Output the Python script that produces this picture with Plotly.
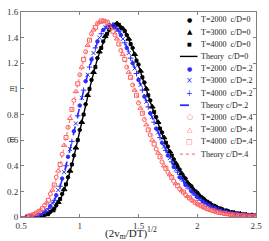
import plotly.graph_objects as go

# ---------------- data ----------------
X_THEORY = [0.50, 0.55, 0.60, 0.65, 0.70, 0.75, 0.80, 0.85, 0.90, 0.95,
            1.00, 1.05, 1.10, 1.15, 1.20, 1.25, 1.30, 1.35, 1.40, 1.45,
            1.50, 1.55, 1.60, 1.65, 1.70, 1.75, 1.80, 1.85, 1.90, 1.95,
            2.00, 2.05, 2.10, 2.15, 2.20, 2.25, 2.30, 2.35, 2.40, 2.45, 2.50]

THEORY_0 = [0, 0, 0.001, 0.004, 0.012, 0.035, 0.085, 0.17, 0.3, 0.47,
            0.67, 0.87, 1.06, 1.23, 1.36, 1.45, 1.5, 1.49, 1.42, 1.31,
            1.18, 1.04, 0.9, 0.77, 0.65, 0.54, 0.44, 0.36, 0.29, 0.23,
            0.18, 0.14, 0.105, 0.08, 0.06, 0.045, 0.033, 0.024, 0.018, 0.013, 0.01]
THEORY_2 = [0, 0.001, 0.004, 0.013, 0.035, 0.08, 0.16, 0.29, 0.46, 0.66,
            0.86, 1.05, 1.22, 1.36, 1.45, 1.5, 1.49, 1.43, 1.33, 1.21,
            1.08, 0.95, 0.82, 0.7, 0.59, 0.49, 0.4, 0.32, 0.26, 0.2,
            0.155, 0.12, 0.09, 0.068, 0.05, 0.037, 0.027, 0.02, 0.015, 0.011, 0.008]
THEORY_4 = [0, 0.004, 0.015, 0.04, 0.085, 0.17, 0.3, 0.48, 0.69, 0.9,
            1.1, 1.28, 1.42, 1.5, 1.53, 1.5, 1.43, 1.32, 1.19, 1.05,
            0.91, 0.78, 0.66, 0.55, 0.45, 0.36, 0.29, 0.23, 0.18, 0.14,
            0.105, 0.08, 0.06, 0.045, 0.033, 0.024, 0.018, 0.013, 0.009, 0.007, 0.005]

X_T2000 = X_THEORY[1:]
X_T3000 = [round(x + 0.017, 3) for x in X_THEORY[1:-1]]
X_T4000 = [round(x + 0.033, 3) for x in X_THEORY[1:-1]]

# c/D = 0
C0_T2000 = [0.0, 0.002, 0.006, 0.015, 0.04, 0.09, 0.18, 0.31, 0.48, 0.68,
            0.88, 1.07, 1.24, 1.37, 1.46, 1.5, 1.48, 1.42, 1.32, 1.19,
            1.05, 0.91, 0.78, 0.66, 0.55, 0.45, 0.37, 0.3, 0.24, 0.19,
            0.145, 0.11, 0.085, 0.065, 0.05, 0.037, 0.028, 0.02, 0.015, 0.012]
C0_T3000 = [0.0, 0.002, 0.007, 0.02, 0.05, 0.115, 0.215, 0.36, 0.54, 0.74,
            0.95, 1.13, 1.29, 1.41, 1.48, 1.51, 1.47, 1.39, 1.27, 1.14,
            1.0, 0.86, 0.74, 0.62, 0.51, 0.42, 0.34, 0.27, 0.215, 0.17,
            0.13, 0.1, 0.075, 0.057, 0.043, 0.032, 0.024, 0.018, 0.013]
C0_T4000 = [0.0, 0.003, 0.01, 0.027, 0.065, 0.14, 0.255, 0.41, 0.6, 0.8,
            1.0, 1.17, 1.32, 1.43, 1.49, 1.5, 1.45, 1.35, 1.22, 1.09,
            0.95, 0.82, 0.69, 0.58, 0.48, 0.39, 0.31, 0.25, 0.2, 0.155,
            0.12, 0.09, 0.068, 0.05, 0.037, 0.027, 0.02, 0.015, 0.011]
# c/D = .2
C2_T2000 = [0.002, 0.006, 0.016, 0.04, 0.085, 0.17, 0.3, 0.47, 0.67, 0.87,
            1.06, 1.23, 1.37, 1.46, 1.5, 1.48, 1.42, 1.32, 1.2, 1.07,
            0.94, 0.81, 0.69, 0.58, 0.48, 0.39, 0.31, 0.25, 0.2, 0.155,
            0.12, 0.09, 0.068, 0.05, 0.038, 0.028, 0.021, 0.015, 0.011, 0.008]
C2_T3000 = [0.003, 0.009, 0.022, 0.052, 0.11, 0.21, 0.35, 0.53, 0.73, 0.93,
            1.11, 1.28, 1.4, 1.48, 1.5, 1.46, 1.39, 1.28, 1.16, 1.03,
            0.9, 0.78, 0.66, 0.55, 0.46, 0.37, 0.3, 0.235, 0.185, 0.14,
            0.11, 0.082, 0.062, 0.046, 0.034, 0.025, 0.019, 0.014, 0.01]
C2_T4000 = [0.004, 0.011, 0.028, 0.065, 0.13, 0.24, 0.4, 0.59, 0.79, 0.99,
            1.17, 1.32, 1.43, 1.49, 1.5, 1.45, 1.36, 1.24, 1.12, 0.99,
            0.86, 0.74, 0.62, 0.52, 0.43, 0.35, 0.28, 0.22, 0.17, 0.13,
            0.1, 0.076, 0.057, 0.042, 0.031, 0.023, 0.017, 0.012, 0.009]
# c/D = .4
C4_T2000 = [0.006, 0.02, 0.045, 0.09, 0.18, 0.31, 0.49, 0.7, 0.91, 1.11,
            1.29, 1.43, 1.51, 1.53, 1.49, 1.42, 1.3, 1.17, 1.03, 0.89,
            0.76, 0.64, 0.53, 0.43, 0.35, 0.28, 0.22, 0.175, 0.135, 0.1,
            0.077, 0.058, 0.043, 0.032, 0.024, 0.018, 0.013, 0.009, 0.007, 0.005]
C4_T3000 = [0.008, 0.024, 0.055, 0.11, 0.21, 0.36, 0.56, 0.77, 0.98, 1.17,
            1.34, 1.46, 1.52, 1.53, 1.47, 1.39, 1.27, 1.13, 0.99, 0.85,
            0.72, 0.6, 0.5, 0.4, 0.33, 0.26, 0.205, 0.16, 0.125, 0.095,
            0.072, 0.054, 0.04, 0.03, 0.022, 0.016, 0.012, 0.009, 0.006]
C4_T4000 = [0.01, 0.03, 0.065, 0.13, 0.25, 0.41, 0.62, 0.84, 1.04, 1.23,
            1.38, 1.48, 1.53, 1.52, 1.45, 1.35, 1.23, 1.09, 0.95, 0.81,
            0.68, 0.57, 0.47, 0.38, 0.31, 0.245, 0.195, 0.15, 0.115, 0.088,
            0.066, 0.05, 0.037, 0.027, 0.02, 0.015, 0.011, 0.008, 0.006]

X_TICKS = [0.5, 1, 1.5, 2, 2.5]
X_TICKTEXT = ["0.5", "1", "1.5", "2", "2.5"]
Y_TICKS = [0, 0.2, 0.4, 0.6, 0.8, 1, 1.2, 1.4, 1.6]
Y_TICKTEXT = ["0", "0.2", "0.4", "0.6", "0.8", "1", "1.2", "1.4", "1.6"]

LEGEND_LABELS = ["T=2000  c/D=0", "T=3000  c/D=0", "T=4000  c/D=0", "Theory  c/D=0",
                 "T=2000  c/D=.2", "T=3000  c/D=.2", "T=4000  c/D=.2", "Theory c/D=.2",
                 "T=2000  c/D=.4", "T=3000  c/D=.4", "T=4000  c/D=.4", "Theory c/D=.4"]

BLACK = "#000000"
BLUE = "#2b2bff"
RED = "#ff5a5a"
PINK = "#ff7f7f"
FONT = "Liberation Serif"

# plot box in pixels (layout)
W, H = 269, 241
L, R, T, B = 20, 8, 7, 24
PW, PH = W - L - R, H - T - B

fig = go.Figure()


def markers(x, y, symbol, color, size=4, width=1):
    fig.add_trace(go.Scatter(x=x, y=y, mode="markers", showlegend=False,
                             marker=dict(symbol=symbol, color=color, size=size,
                                         line=dict(color=color, width=width))))


def theory(y, color, dash, width):
    fig.add_trace(go.Scatter(x=X_THEORY, y=y, mode="lines", showlegend=False,
                             line=dict(color=color, dash=dash, width=width, shape="spline")))


# c/D = 0
markers(X_T2000, C0_T2000, "circle", BLACK, 3.5)
markers(X_T3000, C0_T3000, "triangle-up", BLACK, 5)
markers(X_T4000, C0_T4000, "square", BLACK, 3)
theory(THEORY_0, BLACK, "solid", 1.4)
# c/D = .2
markers(X_T2000, C2_T2000, "circle", BLUE, 3.5)
markers(X_T3000, C2_T3000, "x-thin-open", BLUE, 4)
markers(X_T4000, C2_T4000, "cross-thin-open", BLUE, 4)
theory(THEORY_2, BLUE, "dash", 1.6)
# c/D = .4
markers(X_T2000, C4_T2000, "circle-open", RED, 4)
markers(X_T3000, C4_T3000, "triangle-up-open", RED, 4.5)
markers(X_T4000, C4_T4000, "square-open", RED, 4)
theory(THEORY_4, PINK, "dot", 1.2)

axis_common = dict(showline=True, linecolor="#808080", linewidth=1, mirror="ticks",
                   ticks="inside", ticklen=3, tickcolor="#808080", showgrid=False,
                   zeroline=False, tickfont=dict(family=FONT, size=9, color="#333333"))

fig.update_layout(
    width=W, height=H,
    margin=dict(l=L, r=R, t=T, b=B),
    paper_bgcolor="white", plot_bgcolor="white",
    xaxis=dict(range=[0.5, 2.5], tickvals=X_TICKS, ticktext=X_TICKTEXT, ticklabelstandoff=0,
               **axis_common),
    yaxis=dict(range=[0, 1.6], tickvals=Y_TICKS, ticktext=Y_TICKTEXT, **axis_common),
    showlegend=False,
)


def px_to_paper(px, py):
    return (px - L) / PW, (H - B - py) / PH


# ---- hand-built legend (rows 12.5 px apart) ----
legend_keys = [("●", BLACK, 6), ("▲", BLACK, 7), ("■", BLACK, 5), None,
               ("●", BLUE, 6), ("×", BLUE, 8), ("+", BLUE, 8), None,
               ("○", RED, 7), ("△", RED, 7), ("□", RED, 7), None]
legend_lines = {3: (BLACK, "solid", 1.4), 7: (BLUE, "dash", 1.8), 11: (PINK, "dot", 1.2)}
for i, label in enumerate(LEGEND_LABELS):
    py = 15 + 12.5 * i
    tx, ty = px_to_paper(203, py)
    fig.add_annotation(text=label, xref="paper", yref="paper", x=tx, y=ty,
                       xanchor="left", yanchor="middle", showarrow=False,
                       font=dict(family=FONT, size=8, color="#222222"))
    key = legend_keys[i]
    if key is None:
        color, dash, width = legend_lines[i]
        x0, y0 = px_to_paper(183, py)
        x1, _ = px_to_paper(201, py)
        fig.add_shape(type="line", xref="paper", yref="paper", x0=x0, x1=x1, y0=y0, y1=y0,
                      line=dict(color=color, dash=dash, width=width))
    else:
        sym, color, size = key
        sx, sy = px_to_paper(193, py)
        fig.add_annotation(text=sym, xref="paper", yref="paper", x=sx, y=sy,
                           xanchor="center", yanchor="middle", showarrow=False,
                           font=dict(family="DejaVu Sans", size=size, color=color))

fig.add_annotation(text="(2v<sub>m</sub>/DT)<sup>1/2</sup>", xref="paper", yref="paper",
                   x=0.47, y=0, yshift=-16, xanchor="center", yanchor="middle",
                   showarrow=False, font=dict(family=FONT, size=11, color="#222222"))
for yy in [85, 137]:
    fig.add_annotation(text="m", xref="paper", yref="paper", x=0, xshift=-16,
                       y=(H - B - yy) / PH, textangle=-90, showarrow=False,
                       font=dict(family=FONT, size=8, color="#333333"))

fig.write_html("out.html", config={"displayModeBar": False},
               post_script="document.body.style.margin='0';document.body.style.overflow='hidden';")
